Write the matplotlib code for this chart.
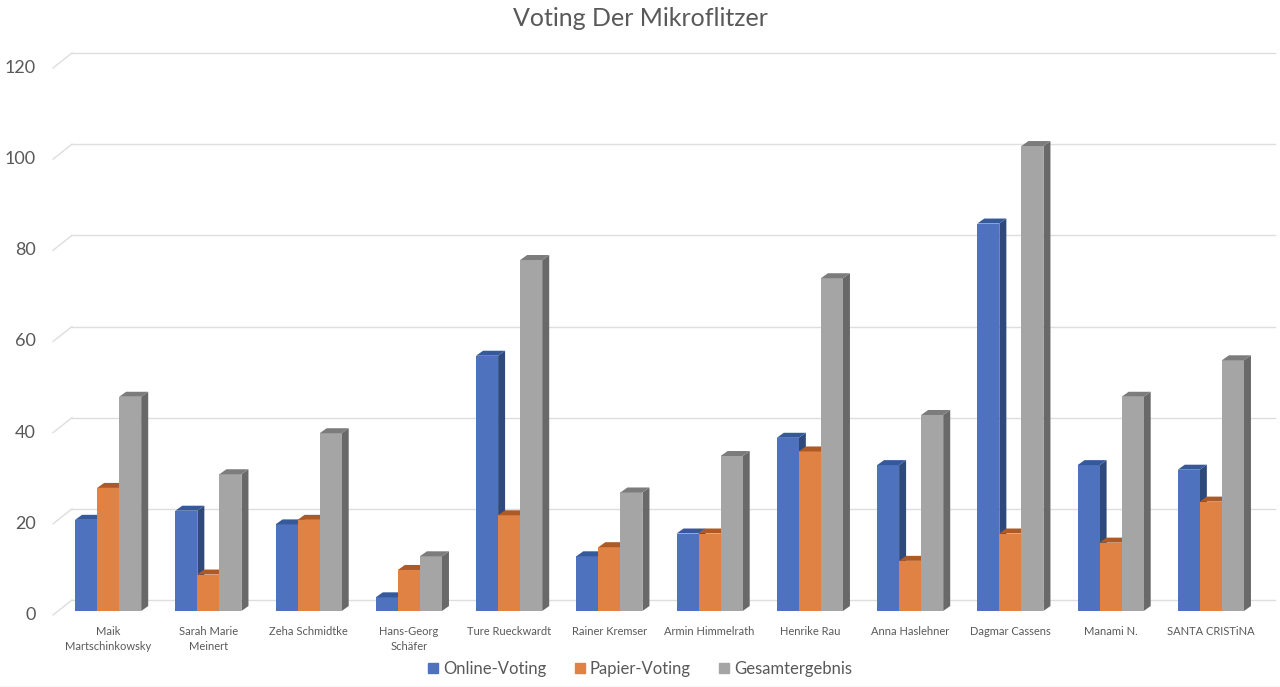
import numpy as np
import matplotlib
matplotlib.use("Agg")
import matplotlib.pyplot as plt
from matplotlib.patches import Polygon, Patch
from matplotlib.lines import Line2D

plt.rcParams["font.family"] = ["Lato", "DejaVu Sans"]

names = ["Maik\nMartschinkowsky", "Sarah Marie\nMeinert", "Zeha Schmidtke",
         "Hans-Georg\nSchäfer", "Ture Rueckwardt", "Rainer Kremser",
         "Armin Himmelrath", "Henrike Rau", "Anna Haslehner", "Dagmar Cassens",
         "Manami N.", "SANTA CRISTiNA"]
online = [20, 22, 19, 3, 56, 12, 17, 38, 32, 85, 32, 31]
papier = [27, 8, 20, 9, 21, 14, 17, 35, 11, 17, 15, 24]
gesamt = [47, 30, 39, 12, 77, 26, 34, 73, 43, 102, 47, 55]
series = ["Online-Voting", "Papier-Voting", "Gesamtergebnis"]
yticks = [0, 20, 40, 60, 80, 100, 120]

# front / top / side shades per series
FACES = [("#4E72BE", "#35599A", "#2F4A7A"),
         ("#DF8244", "#AE5A27", "#B0632F"),
         ("#A5A5A5", "#7C7C7C", "#696969")]
TXT = "#595959"

W, H = 1280, 687
fig = plt.figure(figsize=(W / 100, H / 100), dpi=100)
# axes = front plane of the bars
ax = fig.add_axes([58 / W, (H - 611) / H, 1203 / W, 547 / H])
ax.set_xlim(-0.5, len(names) - 0.5)
ax.set_ylim(0, 120)
ax.axis("off")

px_x = 1 / 100.25   # data units per pixel (x)
px_y = 1 / 4.56     # data units per pixel (y)
bdx, bdy = 14 * px_x, 11 * px_y      # back wall offset
fdx, fdy = -5 * px_x, -4 * px_y      # front floor offset
sdx, sdy = 7 * px_x, 5 * px_y        # bar depth

# gridlines on the back wall + little floor diagonals
x0, x1 = -0.5, len(names) - 0.5
for v in yticks:
    ax.add_line(Line2D([x0 + bdx, x1 + bdx], [v + bdy, v + bdy], color="#DEDEDE",
                       lw=1, zorder=0, clip_on=False))
    ax.add_line(Line2D([x0 + fdx, x0 + bdx], [v + fdy, v + bdy], color="#DEDEDE",
                       lw=1, zorder=0, clip_on=False))
    ax.text(x0 - 22 * px_x, v + fdy, str(v), ha="right", va="center",
            fontsize=13, color=TXT)

x = np.arange(len(names))
bw = 0.22
for k, vals in enumerate([online, papier, gesamt]):
    front, top, side = FACES[k]
    bars = ax.bar(x + (k - 1) * bw, vals, bw, color=front, zorder=2 + k)
    for b in bars:
        l, r, h = b.get_x(), b.get_x() + b.get_width(), b.get_height()
        ax.add_patch(Polygon([(l, h), (r, h), (r + sdx, h + sdy), (l + sdx, h + sdy)],
                             closed=True, color=top, lw=0, zorder=2 + k, clip_on=False))
        ax.add_patch(Polygon([(r, 0), (r, h), (r + sdx, h + sdy), (r + sdx, sdy)],
                             closed=True, color=side, lw=0, zorder=1.9 + k, clip_on=False))

for i, n in enumerate(names):
    ax.text(i, -15 * px_y, n, ha="center", va="top", fontsize=8, color=TXT,
            linespacing=1.5)

fig.text(0.5, 1 - 19 / H, "Voting Der Mikroflitzer", ha="center", va="center",
         fontsize=18, color=TXT)

handles = [Patch(color=FACES[k][0]) for k in range(3)]
fig.legend(handles, series, loc="center", bbox_to_anchor=(0.5, 1 - 669 / H), ncol=3,
           frameon=False, fontsize=12, handlelength=0.6, handleheight=0.6,
           handletextpad=0.3, columnspacing=1.7, labelcolor=TXT)

fig.add_artist(Line2D([0, 1], [0.5 / H, 0.5 / H], color="#D9D9D9", lw=1))

fig.savefig("out.png", dpi=100)
